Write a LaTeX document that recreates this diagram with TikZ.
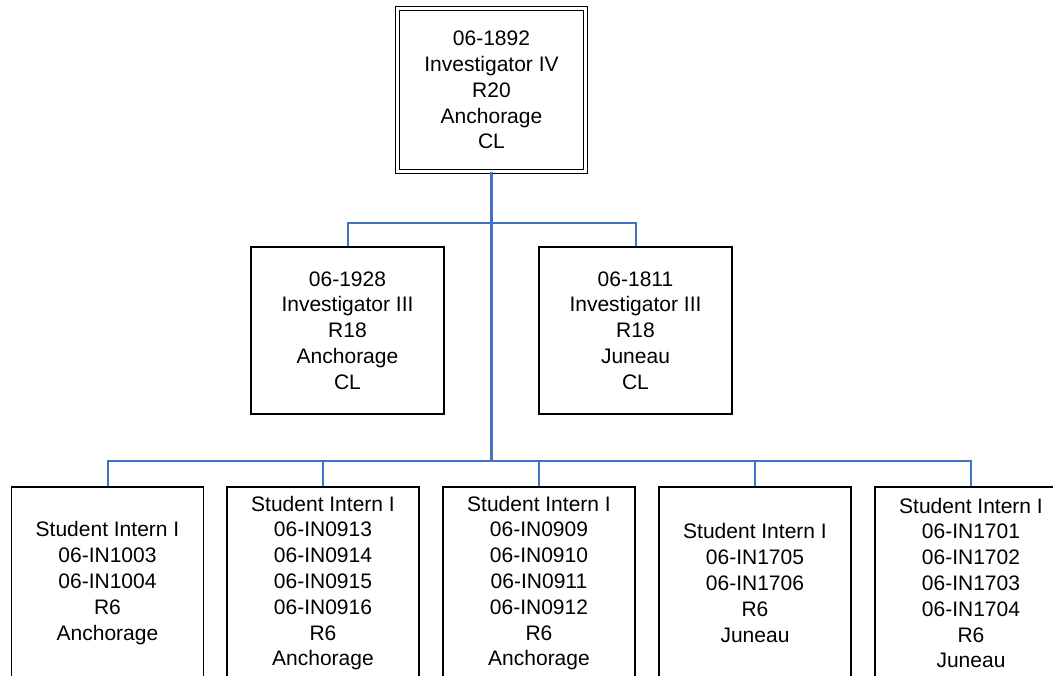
\documentclass[tikz,border=0pt]{standalone}
\usepackage{fontspec}
\setmainfont{Liberation Sans}
\definecolor{connblue}{HTML}{4472C4}
\begin{document}
\begin{tikzpicture}[x=1pt,y=-1pt,
  box/.style={draw=black,line width=1.5pt,align=center,inner sep=0pt,
    font=\fontsize{21}{25.8}\selectfont},
  topbox/.style={box,double,double distance=2.6pt,line width=1.4pt,
    minimum width=188pt,minimum height=163pt},
  midbox/.style={box,minimum width=193pt,minimum height=167pt},
  lowbox/.style={box,minimum width=192pt,minimum height=192pt},
  bus/.style={draw=connblue,line width=2pt},
  trunk/.style={draw=connblue,line width=3pt}]
\clip (0,0) rectangle (1053,676);
\fill[white] (0,0) rectangle (1053,676);

\node[topbox] (top) at (491.5,90) {06-1892\\Investigator IV\\R20\\Anchorage\\CL};

\node[midbox] (m1) at (347.5,330.5) {06-1928\\Investigator III\\R18\\Anchorage\\CL};
\node[midbox] (m2) at (635.5,330.5) {06-1811\\Investigator III\\R18\\Juneau\\CL};

\node[lowbox] (s1) at (107.5,583) {Student Intern I\\06-IN1003\\06-IN1004\\R6\\Anchorage};
\node[lowbox] (s2) at (323,583) {Student Intern I\\06-IN0913\\06-IN0914\\06-IN0915\\06-IN0916\\R6\\Anchorage};
\node[lowbox] (s3) at (539,583) {Student Intern I\\06-IN0909\\06-IN0910\\06-IN0911\\06-IN0912\\R6\\Anchorage};
\node[lowbox] (s4) at (755,583) {Student Intern I\\06-IN1705\\06-IN1706\\R6\\Juneau};
\node[lowbox] (s5) at (971,583) {Student Intern I\\06-IN1701\\06-IN1702\\06-IN1703\\06-IN1704\\R6\\Juneau};

\coordinate (j2) at (491.5,223);
\coordinate (j3) at (491.5,461);

\draw[bus] (j2) -| (m1.north);
\draw[bus] (j2) -| (m2.north);
\draw[bus] (j3) -| (s1.north);
\draw[bus] (j3) -| (s2.north);
\draw[bus] (j3) -| (s3.north);
\draw[bus] (j3) -| (s4.north);
\draw[bus] (j3) -| (s5.north);
\draw[trunk] (top.south) -- (j3);
\end{tikzpicture}
\end{document}
